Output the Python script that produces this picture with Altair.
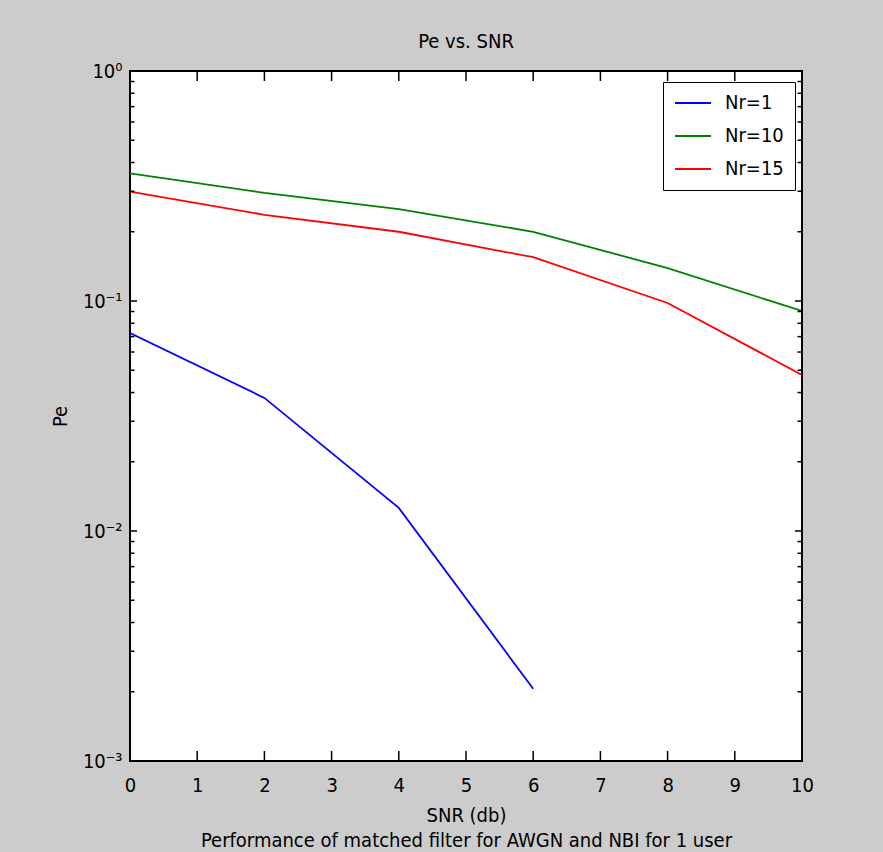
import altair as alt
import pandas as pd

# ---- data ----
series = ["Nr=1", "Nr=10", "Nr=15"]
colors = ["#0000ff", "#008000", "#ff0000"]

snr_nr1 = [0, 2, 4, 6]
pe_nr1 = [0.0726, 0.0379, 0.0126, 0.00206]

snr_nr10 = [0, 2, 4, 6, 8, 10]
pe_nr10 = [0.359, 0.295, 0.251, 0.200, 0.139, 0.0905]

snr_nr15 = [0, 2, 4, 6, 8, 10]
pe_nr15 = [0.299, 0.237, 0.200, 0.155, 0.098, 0.0477]

x_ticks = [0, 1, 2, 3, 4, 5, 6, 7, 8, 9, 10]
y_major = [0.001, 0.01, 0.1, 1.0]
y_major_labels = ["10⁻³", "10⁻²", "10⁻¹", "10⁰"]
y_minor = [0.002, 0.003, 0.004, 0.005, 0.006, 0.007, 0.008, 0.009,
           0.02, 0.03, 0.04, 0.05, 0.06, 0.07, 0.08, 0.09,
           0.2, 0.3, 0.4, 0.5, 0.6, 0.7, 0.8, 0.9]

rows = []
for name, xs, ys in [(series[0], snr_nr1, pe_nr1),
                     (series[1], snr_nr10, pe_nr10),
                     (series[2], snr_nr15, pe_nr15)]:
    for xv, yv in zip(xs, ys):
        rows.append({"series": name, "snr": xv, "pe": yv})
df = pd.DataFrame(rows)
xt = pd.DataFrame({"snr": x_ticks})
ymaj = pd.DataFrame({"pe": y_major})
ymin = pd.DataFrame({"pe": y_minor})

FONT = "Liberation Sans Narrow, DejaVu Sans Condensed, Arial Narrow, Liberation Sans, sans-serif"
W, H = 672, 690
FS = 20

xscale = alt.Scale(domain=[0, 10], nice=False, zero=False)
yscale = alt.Scale(type="log", domain=[0.001, 1], nice=False)

label_expr = " : ".join(
    [f"datum.value < {v * 3} ? '{l}'" for v, l in zip(y_major[:-1], y_major_labels[:-1])]
    + [f"'{y_major_labels[-1]}'"]
)

x_axis = alt.Axis(values=x_ticks, ticks=False, domain=False, grid=False, labelFlush=False,
                  labelPadding=14, labelFontSize=FS, labelFont=FONT, labelColor="#000",
                  title=["SNR (db)", "Performance of matched filter for AWGN and NBI for 1 user"],
                  titleFont=FONT, titleFontSize=FS, titleFontWeight="normal",
                  titleColor="#000", titlePadding=10, titleLineHeight=25)
y_axis = alt.Axis(values=y_major, labelExpr=label_expr, ticks=False, domain=False,
                  grid=False, labelFlush=False, labelPadding=8, labelFontSize=FS, labelFont=FONT,
                  labelColor="#000", title="Pe", titleFont=FONT, titleFontSize=FS,
                  titleFontWeight="normal", titleColor="#000", titlePadding=12)

lines = alt.Chart(df).mark_line(strokeWidth=1.8, clip=True).encode(
    x=alt.X("snr:Q", scale=xscale, axis=x_axis),
    y=alt.Y("pe:Q", scale=yscale, axis=y_axis),
    color=alt.Color("series:N", scale=alt.Scale(domain=series, range=colors),
                    legend=alt.Legend(title=None, orient="none", legendX=533, legendY=11,
                                      strokeColor="#000", fillColor="#fff", padding=11,
                                      symbolType="stroke", symbolSize=1296,
                                      symbolStrokeWidth=2, clipHeight=20,
                                      labelFont=FONT, labelFontSize=FS, labelColor="#000",
                                      labelOffset=13, rowPadding=13)),
)

def hrule(data, length, side):
    if side == "left":
        xx, xx2 = 0, length
    else:
        xx, xx2 = W - length, W
    return alt.Chart(data).mark_rule(color="#000", strokeWidth=1.5).encode(
        y=alt.Y("pe:Q", scale=yscale, axis=y_axis),
        x=alt.value(xx), x2=alt.value(xx2))

def vrule(data, length, side):
    if side == "top":
        yy, yy2 = 0, length
    else:
        yy, yy2 = H - length, H
    return alt.Chart(data).mark_rule(color="#000", strokeWidth=1.5).encode(
        x=alt.X("snr:Q", scale=xscale, axis=x_axis),
        y=alt.value(yy), y2=alt.value(yy2))

ticks = [
    vrule(xt, 10, "top"), vrule(xt, 10, "bottom"),
    hrule(ymaj, 7, "left"), hrule(ymaj, 7, "right"),
    hrule(ymin, 4.5, "left"), hrule(ymin, 4.5, "right"),
]

chart = alt.layer(lines, *ticks).properties(
    width=W, height=H,
    title=alt.Title("Pe vs. SNR", font=FONT, fontSize=FS, fontWeight="normal",
                    color="#000", anchor="middle", offset=9),
    background="#cccccc",
    padding={"left": 130, "top": 71, "right": 81, "bottom": 91},
    autosize=alt.AutoSizeParams(type="none"),
).configure_view(
    fill="#ffffff", stroke="#000", strokeWidth=2
)

chart.save("out.html", embed_options={"renderer": "svg", "actions": False})
